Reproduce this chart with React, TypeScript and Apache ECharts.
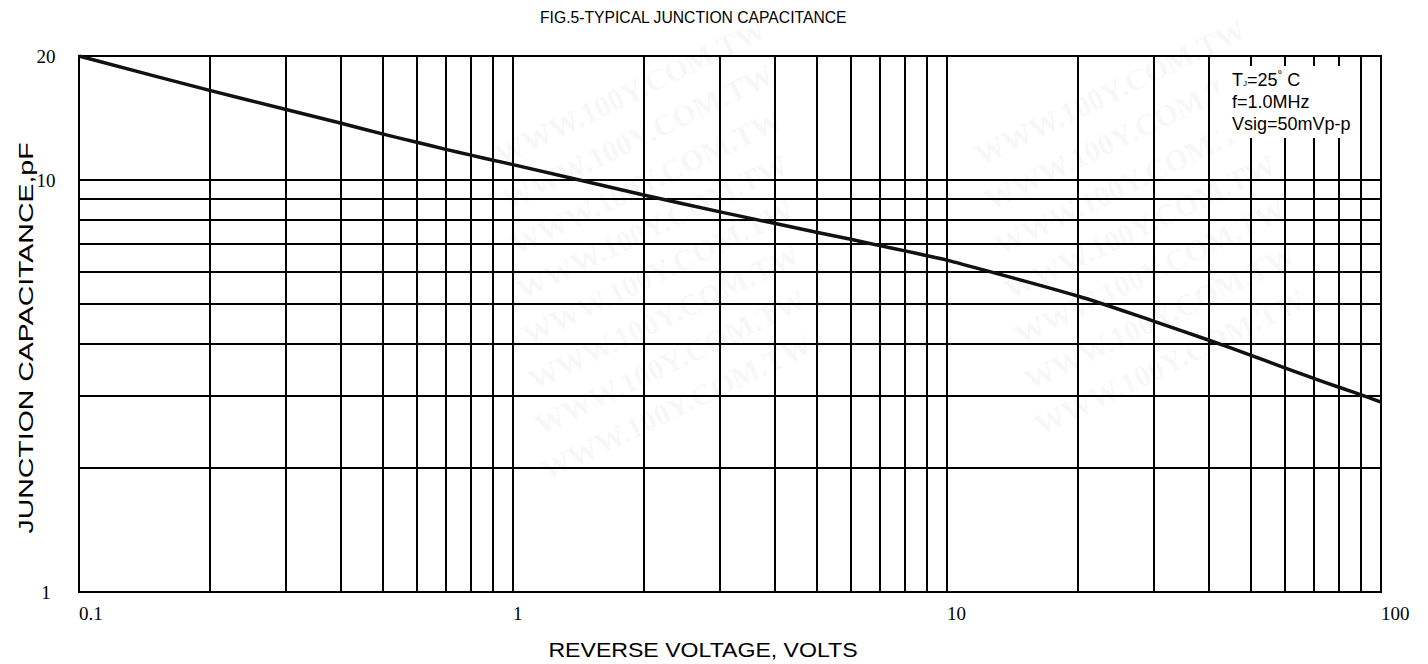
import React, { useEffect, useRef } from "react";
import * as echarts from "echarts";

// Reverse voltage (V) and typical junction capacitance (pF)
const voltage = [0.1, 0.2, 0.3, 0.4, 0.5, 0.6, 0.7, 0.8, 0.9, 1, 2, 3, 4, 5, 6, 7, 8, 9, 10, 20, 30, 40, 50, 60, 70, 80, 90, 100];
const capacitance = [20, 16.5, 14.83, 13.75, 12.94, 12.35, 11.87, 11.49, 11.17, 10.9, 9.2, 8.37, 7.85, 7.47, 7.18, 6.93, 6.73, 6.55, 6.39, 5.23, 4.54, 4.09, 3.76, 3.5, 3.3, 3.14, 3.01, 2.89];

// grid lines
const xGridValues = [0.2, 0.3, 0.4, 0.5, 0.6, 0.7, 0.8, 0.9, 1, 2, 3, 4, 5, 6, 7, 8, 9, 10, 20, 30, 40, 50, 60, 70, 80, 90];
const yGridValues = [2, 3, 4, 5, 6, 7, 8, 9, 10];

// tick labels
const xTickLabels = ["0.1", "1", "10", "100"];
const yTickLabels = ["1", "10", "20"];

const titleText = "FIG.5-TYPICAL JUNCTION CAPACITANCE";
const xName = "REVERSE VOLTAGE, VOLTS";
const yName = "JUNCTION CAPACITANCE,pF";
const conditionText = "{t|T}{s|J}{t|=25}{d|°}{t| C}\n{t|f=1.0MHz}\n{t|Vsig=50mVp-p}";

const watermarkText = "WWW.100Y.COM.TW";
const watermarkX = [630, 638, 646, 652, 658, 664, 670, 676, 1110, 1120, 1130, 1140, 1150, 1160, 1170];
const watermarkY = [92, 137, 182, 227, 272, 317, 362, 407, 92, 137, 182, 227, 272, 317, 362];

export default function App() {
  const ref = useRef<HTMLDivElement>(null);
  useEffect(() => {
    if (!ref.current) return;
    const chart = echarts.init(ref.current, undefined, { renderer: "svg" });
    const watermarks = watermarkX.map((x, i) => ({
      type: "text",
      x,
      y: watermarkY[i],
      rotation: 0.45,
      z: 0,
      silent: true,
      style: {
        text: watermarkText,
        fill: "rgba(0,0,0,0.05)",
        font: 'bold 30px "Liberation Serif"',
        align: "center",
        verticalAlign: "middle",
      },
    }));
    chart.setOption({
      animation: false,
      backgroundColor: "#fff",
      title: {
        text: titleText,
        left: 540,
        top: 9,
        padding: 0,
        textStyle: { fontFamily: "Liberation Sans", fontSize: 15.7, fontWeight: "normal", color: "#000" },
      },
      grid: {
        left: 79,
        right: 47,
        top: 56,
        bottom: 72,
        show: true,
        borderColor: "#000",
        borderWidth: 2,
        backgroundColor: "transparent",
        containLabel: false,
      },
      xAxis: {
        type: "log",
        logBase: 10,
        min: 0.1,
        max: 100,
        axisLine: { show: false },
        axisTick: { show: false },
        splitLine: { show: false },
        axisLabel: {
          show: true,
          margin: 12,
          align: "left",
          fontFamily: "Liberation Serif",
          fontSize: 19,
          color: "#000",
          formatter: (v: number) => xTickLabels[Math.round(Math.log10(v)) + 1] ?? "",
        },
      },
      yAxis: {
        type: "log",
        logBase: 10,
        min: 1,
        max: 20,
        axisLine: { show: false },
        axisTick: { show: false },
        splitLine: { show: false },
        axisLabel: {
          show: true,
          margin: 33,
          align: "center",
          verticalAlign: "middle",
          padding: [0, 0, 10, 0],
          fontFamily: "Liberation Serif",
          fontSize: 19,
          color: "#000",
          formatter: (v: number) => {
            const s = String(Math.round(v));
            return yTickLabels.includes(s) ? s : "";
          },
        },
      },
      series: [
        {
          type: "line",
          data: [],
          z: 1,
          silent: true,
          markLine: {
            silent: true,
            symbol: ["none", "none"],
            label: { show: false },
            lineStyle: { color: "#000", width: 2, type: "solid" },
            data: [
              ...xGridValues.map((v) => ({ xAxis: v })),
              ...yGridValues.map((v) => ({ yAxis: v })),
            ],
          },
        },
        {
          type: "line",
          z: 5,
          symbol: "none",
          smooth: 0.3,
          lineStyle: { color: "#111", width: 3.5 },
          data: voltage.map((v, i) => [v, capacitance[i]]),
        },
      ],
      graphic: [
        ...watermarks,
        {
          type: "rect",
          z: 100,
          shape: { x: 1218, y: 66, width: 140, height: 72 },
          style: { fill: "#fff" },
        },
        {
          type: "text",
          z: 101,
          x: 1232,
          y: 69,
          style: {
            text: conditionText,
            align: "left",
            verticalAlign: "top",
            fill: "#000",
            rich: {
              t: { fontFamily: "Liberation Sans", fontSize: 18, lineHeight: 22, fill: "#000" },
              s: { fontFamily: "Liberation Sans", fontSize: 8, lineHeight: 22, verticalAlign: "bottom", fill: "#000", padding: [0, 0, 4, 0] },
              d: { fontFamily: "Liberation Sans", fontSize: 12, lineHeight: 22, verticalAlign: "top", fill: "#000" },
            },
          },
        },
        {
          type: "text",
          z: 101,
          x: 703,
          y: 650,
          scaleX: 1.1,
          style: {
            text: xName,
            font: '21px "Liberation Sans"',
            fill: "#000",
            align: "center",
            verticalAlign: "middle",
          },
        },
        {
          type: "text",
          z: 101,
          x: 26,
          y: 338,
          rotation: Math.PI / 2,
          scaleX: 1.46,
          style: {
            text: yName,
            font: '19.5px "Liberation Sans"',
            fill: "#000",
            align: "center",
            verticalAlign: "middle",
          },
        },
      ],
    });
    return () => chart.dispose();
  }, []);
  return (
    <div
      ref={ref}
      style={{ position: "fixed", left: 0, top: 0, width: 1428, height: 664, background: "#fff" }}
    />
  );
}
